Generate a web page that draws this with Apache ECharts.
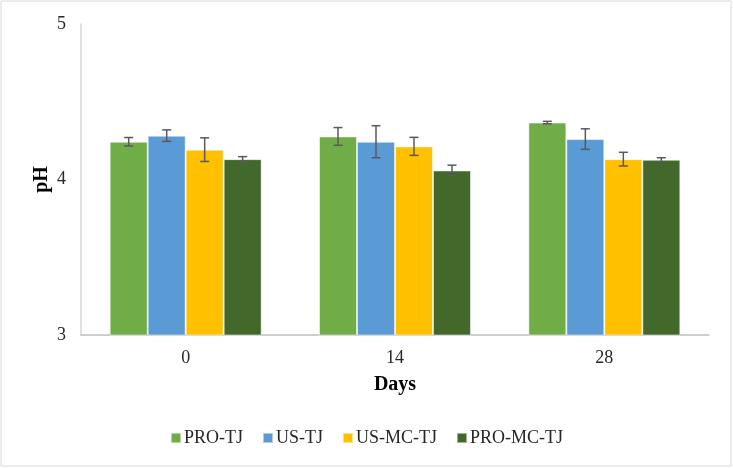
<!DOCTYPE html>
<html>
<head>
<meta charset="utf-8">
<script src="https://cdn.jsdelivr.net/npm/echarts@6/dist/echarts.min.js"></script>
<style>html,body{margin:0;padding:0;background:#fff}#c{width:733px;height:468px}</style>
</head>
<body>
<div id="c"></div>
<script>
const categories = ['0', '14', '28'];
const seriesNames = ['PRO-TJ', 'US-TJ', 'US-MC-TJ', 'PRO-MC-TJ'];
const proTJ = [4.243, 4.277, 4.366];
const usTJ = [4.282, 4.243, 4.260];
const usMcTJ = [4.192, 4.213, 4.131];
const proMcTJ = [4.131, 4.058, 4.127];
const proTJErr = [0.027, 0.057, 0.008];
const usTJErr = [0.037, 0.103, 0.066];
const usMcTJErr = [0.076, 0.058, 0.044];
const proMcTJErr = [0.016, 0.034, 0.013];
const yTicks = [3, 4, 5];

const means = [proTJ, usTJ, usMcTJ, proMcTJ];
const errs = [proTJErr, usTJErr, usMcTJErr, proMcTJErr];
const colors = ['#70AD47', '#5B9BD5', '#FFC000', '#43682B'];
const gapFrac = 0.274;
const font = 'Liberation Serif';

const chart = echarts.init(document.getElementById('c'));
const series = [];
seriesNames.forEach((n, i) => {
  series.push({
    name: n, type: 'bar', data: means[i], barGap: '0%', barCategoryGap: (gapFrac * 100) + '%',
    itemStyle: { color: colors[i], borderColor: 'rgba(255,255,255,0.5)', borderWidth: 1 }
  });
});
seriesNames.forEach((n, i) => {
  series.push({
    type: 'custom', name: n + '-err', z: 10, silent: true,
    data: categories.map((c, k) => [k, means[i][k] - errs[i][k], means[i][k] + errs[i][k]]),
    encode: { x: 0, y: [1, 2] },
    renderItem: function (params, api) {
      const k = api.value(0);
      const lo = api.coord([k, api.value(1)]);
      const hi = api.coord([k, api.value(2)]);
      const band = api.size([1, 0])[0];
      const bw = band * (1 - gapFrac) / 4;
      const x = lo[0] + (i - 1.5) * bw;
      const cap = 4.5;
      const st = { stroke: '#595959', lineWidth: 1.5 };
      return { type: 'group', children: [
        { type: 'line', shape: { x1: x, y1: lo[1], x2: x, y2: hi[1] }, style: st },
        { type: 'line', shape: { x1: x - cap, y1: lo[1], x2: x + cap, y2: lo[1] }, style: st },
        { type: 'line', shape: { x1: x - cap, y1: hi[1], x2: x + cap, y2: hi[1] }, style: st }
      ]};
    }
  });
});

chart.setOption({
  animation: false,
  textStyle: { fontFamily: font },
  graphic: [{ type: 'rect', shape: { x: 1, y: 1, width: 730, height: 465 }, style: { fill: 'none', stroke: '#D9D9D9', lineWidth: 1 } }],
  grid: { left: 81, right: 24, top: 24, bottom: 133 },
  legend: {
    data: seriesNames, bottom: 16, left: 'center', itemWidth: 10, itemHeight: 10, itemGap: 19,
    icon: 'rect', textStyle: { fontFamily: font, fontSize: 18, color: '#262626', padding: [0, 0, 0, -2] }
  },
  xAxis: {
    type: 'category', data: categories,
    name: 'Days', nameLocation: 'middle', nameGap: 40, nameMoveOverlap: false,
    nameTextStyle: { fontFamily: font, fontSize: 20, fontWeight: 'bold', color: '#000' },
    axisLine: { lineStyle: { color: '#BFBFBF', width: 1.5 } },
    axisTick: { show: false },
    axisLabel: { fontFamily: font, fontSize: 18, color: '#262626', margin: 14 }
  },
  yAxis: {
    type: 'value', min: yTicks[0], max: yTicks[yTicks.length - 1], interval: 1,
    name: 'pH', nameLocation: 'middle', nameGap: 29, nameMoveOverlap: false,
    nameTextStyle: { fontFamily: font, fontSize: 20, fontWeight: 'bold', color: '#000' },
    axisLine: { show: true, lineStyle: { color: '#D9D9D9', width: 1.5 } },
    axisTick: { show: false },
    splitLine: { show: false },
    axisLabel: { fontFamily: font, fontSize: 18, color: '#262626', margin: 15 }
  },
  series: series
});
</script>
</body>
</html>
